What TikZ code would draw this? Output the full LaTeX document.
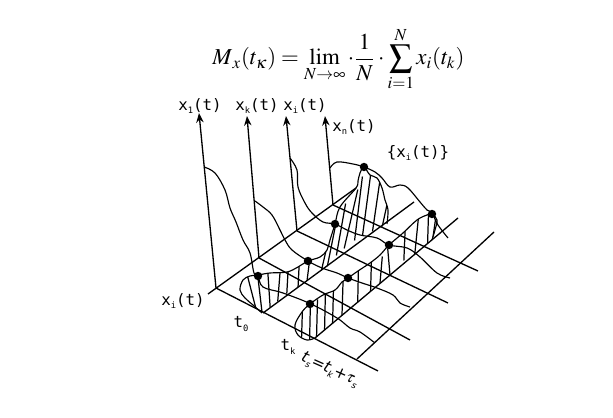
\documentclass[tikz,border=0pt]{standalone}
\usepackage{mathptmx}
\usepackage{fontspec}
\setmainfont{Liberation Serif}
\newfontfamily\labelfont{DejaVu Sans Mono}
\newfontfamily\slantfont{DejaVu Sans}
\usetikzlibrary{arrows.meta, positioning}

\newcommand{\sub}[1]{\raisebox{-0.4ex}{\fontsize{5}{5}\selectfont #1}}
% Section through t0 and through ts
\newcommand{\sectionone}{plot[smooth, tension=0.6] coordinates {(262,313) (253,305) (245,298) (240,290) (243,280) (250,276) (258,275) (270,273) (287,272) (298,267) (308,261) (320,257) (327,250) (330,240) (335,224) (340,207) (356,188) (358,181) (360,173) (364,167) (370,175) (377,178) (382,188) (385,200) (388,210) (387,224)}}
\newcommand{\sectiontwo}{plot[smooth, tension=0.6] coordinates {(315,338) (307,340) (298,335) (295,325) (302,312) (310,304) (323,295) (335,290) (342,282) (348,278) (358,271) (370,263) (380,255) (389,245) (403,233) (417,220) (427,215) (432,214) (437,220) (435,230) (432,240)}}

\tikzset{
  mono/.style={font=\labelfont\fontsize{9}{9}\selectfont, inner sep=0pt},
  dot/.style={circle, fill=black, inner sep=0pt, minimum size=4.8pt},
  axisline/.style={line width=0.75pt},
  curveline/.style={line width=0.65pt},
  hatchline/.style={line width=0.7pt, shorten >=-2pt, shorten <=-2pt},
  axisarrow/.style={axisline, -{Stealth[length=5.5pt,width=4.2pt]}}
}

\begin{document}
\begin{tikzpicture}[x=0.02cm,y=-0.02cm]
  \useasboundingbox (0,0) rectangle (613,418);
  % Formula
  \node[inner sep=0pt, anchor=west] (formula) at (212,59) {\fontsize{13}{15}\selectfont $\displaystyle M_{\,x}(t_{\kappa})=\lim_{N\to\infty}\cdot\frac{1}{N}\cdot\sum_{i=1}^{N}x_{i}(t_{k})$};
  % Axes
  \coordinate (base1) at (216,288);
  \coordinate (base2) at (259,258);
  \coordinate (base3) at (297,231);
  \coordinate (base4) at (333,205);
  \coordinate (top1) at (199,113);
  \coordinate (top2) at (247,116);
  \coordinate (top3) at (286,116);
  \coordinate (top4) at (325,116);
  \draw[axisarrow] (base1) -- (top1);
  \draw[axisarrow] (base2) -- (top2);
  \draw[axisarrow] (base3) -- (top3);
  \draw[axisarrow] (base4) -- (top4);
  % Time lines
  \coordinate (end1) at (378,371);
  \coordinate (end2) at (410,340);
  \coordinate (end3) at (448,303);
  \coordinate (end4) at (478,271);
  \draw[axisline] (base1) -- (end1);
  \draw[axisline] (base2) -- (end2);
  \draw[axisline] (base3) -- (end3);
  \draw[axisline] (base4) -- (end4);
  % Cross lines
  \coordinate (tick0) at (208,294);
  \coordinate (tick0b) at (356,188);
  \coordinate (tick1) at (263,313);
  \coordinate (tick1b) at (414,202);
  \coordinate (tick2) at (315,338);
  \coordinate (tick2b) at (458,218);
  \coordinate (tick3) at (357,359);
  \coordinate (tick3b) at (494,232);
  \draw[axisline] (tick0) -- (tick0b);
  \draw[axisline] (tick1) -- (tick1b);
  \draw[axisline] (tick2) -- (tick2b);
  \draw[axisline] (tick3) -- (tick3b);
  % Realisations
  \draw[curveline] plot[smooth, tension=0.6] coordinates {(204,167) (215,173) (225,190) (230,208) (236,222) (243,240) (250,253) (254,273) (258,276) (263,287) (283,293) (311,304) (337,318) (350,328) (360,332) (375,343)};
  \draw[curveline] plot[smooth, tension=0.6] coordinates {(255,201) (263,207) (272,215) (280,230) (285,240) (292,250) (308,261) (322,268) (337,273) (348,278) (362,283) (377,288) (393,295) (400,303) (410,307)};
  \draw[curveline] plot[smooth, tension=0.6] coordinates {(290,158) (297,170) (298,187) (305,203) (312,213) (323,222) (335,224) (347,230) (360,235) (377,238) (389,245) (407,248) (420,257) (437,273) (450,278)};
  \draw[curveline] plot[smooth, tension=0.6] coordinates {(330,168) (337,162) (353,164) (364,167) (375,172) (382,178) (390,187) (400,185) (408,188) (420,202) (427,210) (432,213) (438,225) (448,238)};
  % Sections with hatching
  \draw[curveline] \sectionone;
  \draw[curveline] \sectiontwo;
  \begin{scope}
    \clip \sectionone -- cycle;
    \foreach \xa/\ya/\xb/\yb in {248/278/255/305, 258/278/262/312, 268/275/270/305, 280/273/278/298, 288/272/287/290, 299/268/298/288, 309/265/307/281, 322/268/325/255, 328/263/335/228, 337/252/345/207, 345/245/357/193, 355/237/362/180, 363/232/371/172, 373/228/380/180, 383/223/388/200}
      \draw[hatchline] (\xa,\ya) -- (\xb,\yb);
  \end{scope}
  \begin{scope}
    \clip \sectiontwo -- cycle;
    \foreach \xa/\ya/\xb/\yb in {301.6/337/302.4/310, 309.6/340/310.4/303, 316.6/335/317.4/303, 324.6/328/325.4/293, 332.6/322/333.4/292, 342/315/343/283, 357.6/307/358.4/270, 370.6/290/371.4/262, 380/283/382/260, 390/275/388/252, 404/257/405/233, 415/252/418/222, 427.6/243/428.4/217, 433/237/435/223}
      \draw[hatchline] (\xa,\ya) -- (\xb,\yb);
  \end{scope}
  % Dots
  \node[dot] (dot1) at (258,276) {};
  \node[dot] (dot2) at (308,261) {};
  \node[dot] (dot3) at (335,224) {};
  \node[dot] (dot4) at (364,167) {};
  \node[dot] (dot5) at (310,304) {};
  \node[dot] (dot6) at (348,278) {};
  \node[dot] (dot7) at (389,245) {};
  \node[dot] (dot8) at (432,214) {};
  % Labels
  \node[mono] (lblone) at (200,106) {x\sub{1}(t)};
  \node[mono] (lblk) at (257,106) {x\sub{k}(t)};
  \node[mono] (lbli) at (305,106) {x\sub{i}(t)};
  \node[mono] (lbln) at (354,127) {x\sub{n}(t)};
  \node[mono] (lblset) at (418,153) {\{x\sub{i}(t)\}};
  \node[mono] (lblorigin) at (183,301) {x\sub{i}(t)};
  \node[mono] (lblzero) at (241,324) {t\sub{0}};
  \node[mono] (lblkk) at (288,347) {t\sub{k}};
  \node[inner sep=0pt, rotate=-24, font=\slantfont\itshape\fontsize{9}{9}\selectfont] (lbltau) at (330,370) {t\sub{s}=t\sub{k}+$\tau$\sub{s}};
\end{tikzpicture}
\end{document}
